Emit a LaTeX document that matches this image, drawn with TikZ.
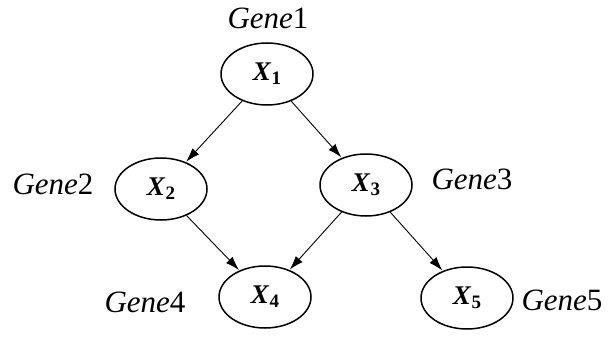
\documentclass[tikz,border=0pt]{standalone}
\usepackage{fontspec}
\setmainfont{Liberation Serif}
\usetikzlibrary{shapes.geometric,arrows.meta}

% bold italic variable with a lowered bold index
\newcommand{\genevar}[1]{\fontsize{27}{27}\selectfont\textbf{\textit{X}}\raisebox{-4pt}{\fontsize{19}{19}\selectfont\textbf{#1}}}
% gene name: italic word, upright number
\newcommand{\genename}[1]{\fontsize{31}{31}\selectfont\textit{Gene}#1}

\begin{document}
\begin{tikzpicture}[x=1pt,y=-1pt,
  genenode/.style={ellipse,draw,line width=1.5pt,minimum width=92pt,minimum height=62pt,inner sep=0pt},
  genelabel/.style={inner sep=0pt},
  link/.style={line width=0.9pt,-{Latex[length=14pt,width=9pt]},shorten >=0.5pt}]
  \useasboundingbox (0,0) rectangle (608,337);

  % variables
  \node[genenode] (x1) at (267,74)  {\genevar{1}};
  \node[genenode] (x2) at (161,189) {\genevar{2}};
  \node[genenode] (x3) at (366,185) {\genevar{3}};
  \node[genenode] (x4) at (265,297) {\genevar{4}};
  \node[genenode] (x5) at (467,298) {\genevar{5}};

  % gene names
  \node[genelabel] (g1) at (268,18)  {\genename{1}};
  \node[genelabel] (g2) at (53,184)  {\genename{2}};
  \node[genelabel] (g3) at (472,179) {\genename{3}};
  \node[genelabel] (g4) at (145,302) {\genename{4}};
  \node[genelabel] (g5) at (562,300) {\genename{5}};

  % regulatory links
  \draw[link] (x1) -- (x2);
  \draw[link] (x1) -- (x3);
  \draw[link] (x2) -- (x4);
  \draw[link] (x3) -- (x4);
  \draw[link] (x3) -- (x5);
\end{tikzpicture}
\end{document}
